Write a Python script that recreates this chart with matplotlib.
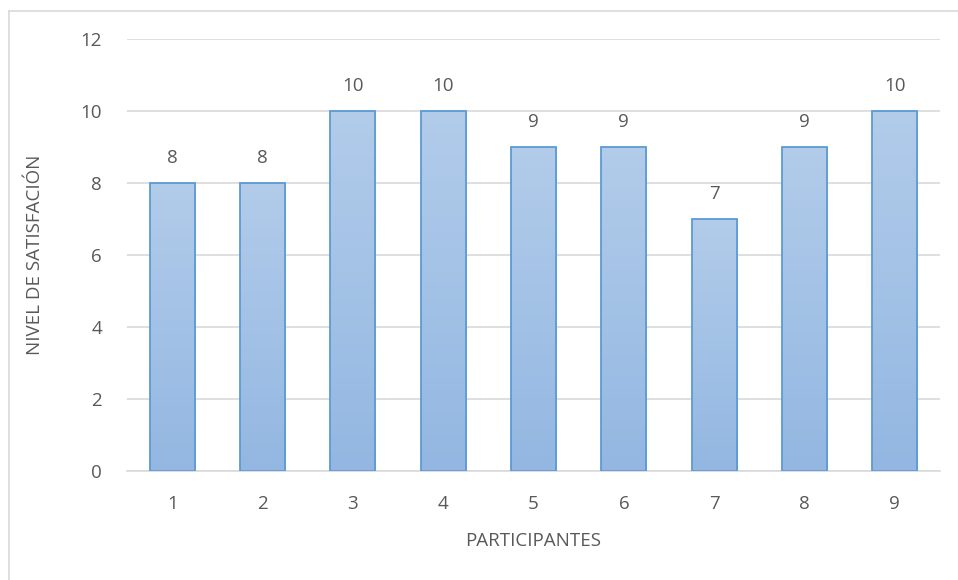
import numpy as np
import matplotlib.pyplot as plt
from matplotlib.colors import LinearSegmentedColormap
from matplotlib.patches import Rectangle
from matplotlib.lines import Line2D

participantes = [1, 2, 3, 4, 5, 6, 7, 8, 9]
satisfaccion = [8, 8, 10, 10, 9, 9, 7, 9, 10]

plt.rcParams['font.family'] = ['Open Sans', 'DejaVu Sans']
text_color = '#595959'
grid_color = '#D9D9D9'

fig = plt.figure(figsize=(9.58, 5.8), dpi=100)
ax = fig.add_axes([0.1326, 0.1879, 0.8486, 0.7449])

# chart border (left/top visible)
fig.add_artist(Line2D([8.5 / 958, 8.5 / 958], [1 - 10.5 / 580, -0.1], color=grid_color, lw=1.2, transform=fig.transFigure))
fig.add_artist(Line2D([8.5 / 958, 1.1], [1 - 10.5 / 580, 1 - 10.5 / 580], color=grid_color, lw=1.2, transform=fig.transFigure))

cmap = LinearSegmentedColormap.from_list('g', ['#93B7E2', '#B2CCEA'])
grad = np.linspace(0, 1, 256).reshape(-1, 1)

fs = 13.5
width = 0.5
for x, v in zip(participantes, satisfaccion):
    ext = [x - width / 2, x + width / 2, 0, v]
    im = ax.imshow(grad, extent=ext, origin='lower', cmap=cmap, aspect='auto', zorder=2)
    rect = Rectangle((x - width / 2, 0), width, v, facecolor='none', edgecolor='#5B9BD5', lw=1.3, zorder=3)
    ax.add_patch(rect)
    im.set_clip_path(rect)
    ax.text(x, v + 0.45, str(v), ha='center', va='bottom', fontsize=fs, color=text_color)

ax.set_xlim(0.5, 9.5)
ax.set_ylim(0, 12)
ax.set_yticks(range(0, 13, 2))
ax.set_xticks(participantes)
ax.grid(axis='y', color=grid_color, lw=1.2)
ax.set_axisbelow(True)
for s in ['top', 'right', 'left']:
    ax.spines[s].set_visible(False)
ax.spines['bottom'].set_color(grid_color)
ax.spines['bottom'].set_linewidth(1.2)
ax.tick_params(length=0, labelsize=fs, colors=text_color)
ax.tick_params(axis='y', pad=18)
ax.tick_params(axis='x', pad=17)
ax.set_xlabel('PARTICIPANTES', fontsize=fs, color=text_color, labelpad=14)
ax.set_ylabel('NIVEL DE SATISFACIÓN', fontsize=fs, color=text_color, labelpad=26)

fig.savefig('out.png', dpi=100)
